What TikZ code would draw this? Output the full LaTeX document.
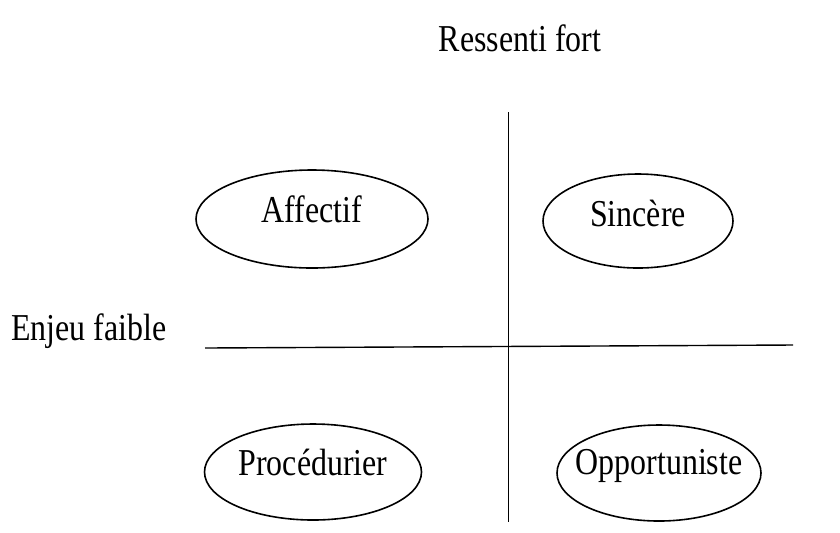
\documentclass[tikz,border=0pt]{standalone}
\usepackage{fontspec}
\setmainfont[FakeStretch=0.84]{Liberation Serif}
\usetikzlibrary{
  shapes.geometric
}
\tikzset{
  % Shared values, pixel grid of the reference.
  globals/text size/.initial=19pt,
%
  % For the quadrant ellipses.
  quadrant/.style={
    ellipse,
    draw,
    line width=0.8pt,
    inner sep=0pt},
%
  % For the two axes.
  axis/.style={
    line width=0.5pt},
%
  % For all texts.
  caption/.style={
    font={\fontsize{\pgfkeysvalueof{/tikz/globals/text size}}{22pt}\selectfont},
    inner sep=0pt}
}

\begin{document}
\begin{tikzpicture}[x=0.5pt,y=-0.5pt]
  \useasboundingbox (0,0) rectangle (840,532);

  % Axis end points.
  \coordinate (top)    at (508,112);
  \coordinate (bottom) at (508,522);
  \coordinate (left)   at (205,348);
  \coordinate (right)  at (793,345);

  \draw[axis] (top) -- (bottom);
  \draw[axis, line width=0.7pt] (left) -- (right);

  \node[caption] (ressenti) at (520,38) {Ressenti fort};
  \node[caption] (enjeu)    at (89,331) {Enjeu faible};

  % The four quadrants.
  \node[quadrant,
        minimum width=116pt, minimum height=49pt,
        label={[caption, yshift=5pt]center:Affectif}] (affectif) at (312,219) {};
  \node[quadrant,
        minimum width=95pt, minimum height=47pt,
        label={[caption, yshift=4pt]center:Sincère}] (sincere) at (638,221) {};
  \node[quadrant,
        minimum width=108.5pt, minimum height=48pt,
        label={[caption, yshift=5pt]center:Procédurier}] (procedurier) at (313,472) {};
  \node[quadrant,
        minimum width=102pt, minimum height=48pt,
        label={[caption, yshift=3.5pt]center:Opportuniste}] (opportuniste) at (659,473) {};
\end{tikzpicture}
\end{document}
